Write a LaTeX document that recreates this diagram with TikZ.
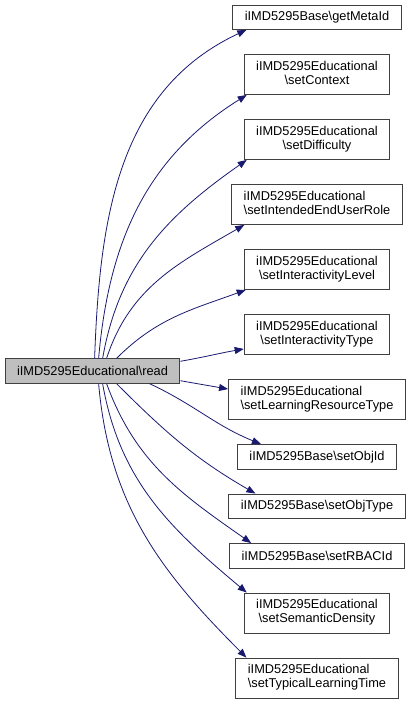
\documentclass[tikz,border=0pt]{standalone}
\usepackage{fontspec}
\setmainfont{Liberation Sans}
\usetikzlibrary{arrows.meta}

\definecolor{edgeblue}{HTML}{191970}
\newcommand{\twoline}[2]{\begin{tabular}{@{}l@{}}#1\\\multicolumn{1}{@{}c@{}}{#2}\end{tabular}}

\tikzset{
  fn/.style={draw=black!75, line width=0.9pt, fill=white, inner xsep=12pt, inner ysep=0pt,
    minimum height=24.5pt, font=\fontsize{12.8}{14}\selectfont},
  fntwo/.style={fn, minimum height=40pt},
  current/.style={fn, fill=black!25},
  call/.style={draw=edgeblue, line width=0.8pt, -{Triangle[length=9pt,width=7pt]}}
}

\begin{document}
\begin{tikzpicture}[x=1pt,y=1pt]
\useasboundingbox (0,0) rectangle (412,-714);
\node[current] (read) at (92.5,-371) {iIMD5295Educational\textbackslash read};
\node[fn] (getMetaId) at (317,-17.25) {iIMD5295Base\textbackslash getMetaId};
\node[fntwo] (setContext) at (317,-74.5) {\twoline{iIMD5295Educational}{\textbackslash setContext}};
\node[fntwo] (setDifficulty) at (317,-139.5) {\twoline{iIMD5295Educational}{\textbackslash setDifficulty}};
\node[fntwo] (setIntendedEndUserRole) at (317,-204.5) {\twoline{iIMD5295Educational}{\textbackslash setIntendedEndUserRole}};
\node[fntwo] (setInteractivityLevel) at (317,-269.5) {\twoline{iIMD5295Educational}{\textbackslash setInteractivityLevel}};
\node[fntwo] (setInteractivityType) at (317,-334.5) {\twoline{iIMD5295Educational}{\textbackslash setInteractivityType}};
\node[fntwo] (setLearningResourceType) at (317,-399.5) {\twoline{iIMD5295Educational}{\textbackslash setLearningResourceType}};
\node[fn] (setObjId) at (317,-456.75) {iIMD5295Base\textbackslash setObjId};
\node[fn] (setObjType) at (317,-506.25) {iIMD5295Base\textbackslash setObjType};
\node[fn] (setRBACId) at (317,-555.75) {iIMD5295Base\textbackslash setRBACId};
\node[fntwo] (setSemanticDensity) at (317,-613) {\twoline{iIMD5295Educational}{\textbackslash setSemanticDensity}};
\node[fntwo] (setTypicalLearningTime) at (317,-678) {\twoline{iIMD5295Educational}{\textbackslash setTypicalLearningTime}};
% calls, top to bottom
\draw[call] ([xshift=90pt]read.north west) to[out=88,in=205] ([xshift=14pt]getMetaId.south west);
\draw[call] ([xshift=94pt]read.north west) to[out=85,in=212] ([xshift=3pt]setContext.south west);
\draw[call] ([xshift=98pt]read.north west) to[out=80,in=215] ([xshift=3pt]setDifficulty.south west);
\draw[call] ([xshift=102pt]read.north west) to[out=72,in=210] ([xshift=13pt]setIntendedEndUserRole.south west);
\draw[call] ([xshift=112pt]read.north west) to[out=45,in=200] ([xshift=2pt]setInteractivityLevel.south west);
\draw[call] ([yshift=-3pt]read.north east) to[out=10,in=190] ([yshift=6pt]setInteractivityType.south west);
\draw[call] ([yshift=3pt]read.south east) to[out=-10,in=170] ([yshift=-10pt]setLearningResourceType.north west);
\draw[call] ([xshift=145pt]read.south west) to[out=-25,in=158] ([xshift=24pt]setObjId.north west);
\draw[call] ([xshift=112pt]read.south west) to[out=-45,in=150] ([xshift=27pt]setObjType.north west);
\draw[call] ([xshift=102pt]read.south west) to[out=-70,in=145] ([xshift=22pt]setRBACId.north west);
\draw[call] ([xshift=98pt]read.south west) to[out=-80,in=140] ([xshift=3pt]setSemanticDensity.north west);
\draw[call] ([xshift=94pt]read.south west) to[out=-85,in=135] ([xshift=11pt]setTypicalLearningTime.north west);
\end{tikzpicture}
\end{document}
